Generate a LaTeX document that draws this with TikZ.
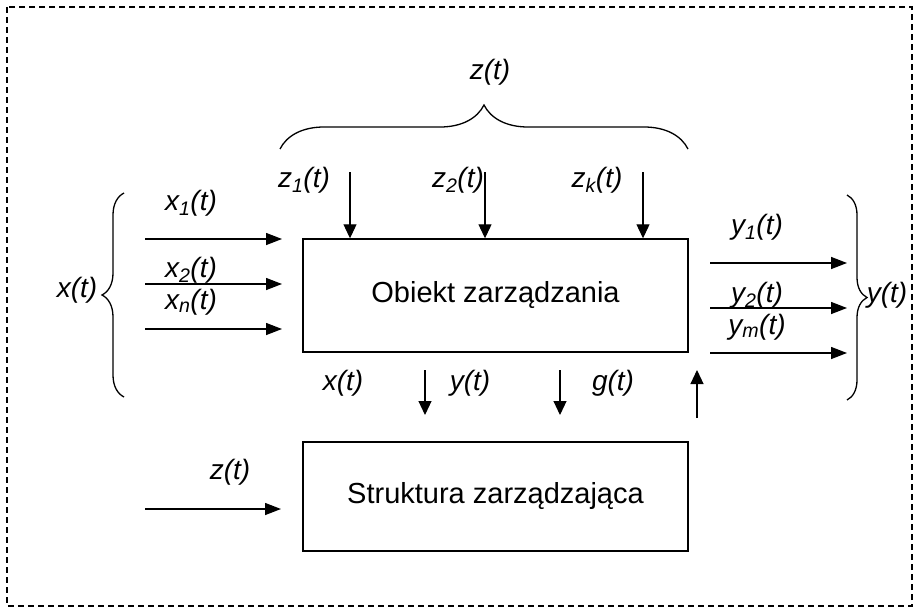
\documentclass[tikz,border=0pt]{standalone}
\usepackage{fontspec}
\setmainfont{Liberation Sans}
\usetikzlibrary{arrows.meta,decorations.pathreplacing}
\newcommand\sig[2]{#1\textsubscript{#2}(t)}
\begin{document}
\begin{tikzpicture}[x=1pt,y=-1pt,
  block/.style={draw, line width=1.4pt, minimum width=385pt, inner sep=0pt,
    font=\fontsize{29}{34}\selectfont},
  lab/.style={font=\fontsize{28}{33}\selectfont\itshape, inner sep=0pt},
  sigarrow/.style={line width=1.4pt, -{Triangle[length=16pt,width=12pt]}},
  thinarrow/.style={line width=1.1pt, -{Triangle[length=14pt,width=13pt]}},
  bracestyle/.style={line width=1.3pt, decorate},
  frame/.style={line width=1.2pt, dash pattern=on 6pt off 4pt}]
\useasboundingbox (0,0) rectangle (917,610);
\draw[frame] (7,7) rectangle (912,606);

% blocks
\node[block, minimum height=113pt] (ob) at (495.5,295.5) {Obiekt zarządzania};
\node[block, minimum height=109pt] (st) at (495.5,496.5) {Struktura zarządzająca};

% inputs x
\coordinate (x1s) at (145,239); \coordinate (x1e) at (282,239);
\coordinate (x2s) at (145,284); \coordinate (x2e) at (282,284);
\coordinate (x3s) at (145,329); \coordinate (x3e) at (282,329);
\draw[sigarrow] (x1s) -- (x1e);
\draw[sigarrow] (x2s) -- (x2e);
\draw[sigarrow] (x3s) -- (x3e);
\node[lab] (lx1) at (191,203) {\sig{x}{1}};
\node[lab] (lx2) at (191,270) {\sig{x}{2}};
\node[lab] (lxn) at (191,302) {\sig{x}{n}};
\draw[bracestyle, decoration={brace, amplitude=22pt}] (124,397) -- (124,193);
\node[lab] (lx) at (77,290) {x(t)};

% disturbances z
\coordinate (z1s) at (350,172);
\coordinate (z2s) at (485,172);
\coordinate (zks) at (643,172);
\draw[thinarrow] (z1s) -- (z1s |- ob.north);
\draw[thinarrow] (z2s) -- (z2s |- ob.north);
\draw[thinarrow] (zks) -- (zks |- ob.north);
\node[lab] (lz1) at (304,180) {\sig{z}{1}};
\node[lab] (lz2) at (458,180) {\sig{z}{2}};
\node[lab] (lzk) at (597,180) {\sig{z}{k}};
\draw[bracestyle, decoration={brace, amplitude=44pt}] (280,149) -- (688,149);
\node[lab] (lz) at (490,72) {z(t)};

% outputs y
\coordinate (y1s) at (710,263); \coordinate (y1e) at (847,263);
\coordinate (y2s) at (710,308); \coordinate (y2e) at (847,308);
\coordinate (y3s) at (710,353); \coordinate (y3e) at (847,353);
\draw[sigarrow] (y1s) -- (y1e);
\draw[sigarrow] (y2s) -- (y2e);
\draw[sigarrow] (y3s) -- (y3e);
\node[lab] (ly1) at (757,227) {\sig{y}{1}};
\node[lab] (ly2) at (757,295) {\sig{y}{2}};
\node[lab] (lym) at (757,327) {\sig{y}{m}};
\draw[bracestyle, decoration={brace, amplitude=20pt}] (847,195) -- (847,400);
\node[lab] (ly) at (887,295) {y(t)};

% between blocks
\coordinate (d1s) at (425,370); \coordinate (d1e) at (425,415);
\coordinate (d2s) at (560,370); \coordinate (d2e) at (560,415);
\coordinate (ups) at (697,418); \coordinate (upe) at (697,370);
\draw[thinarrow] (d1s) -- (d1e);
\draw[thinarrow] (d2s) -- (d2e);
\draw[thinarrow] (ups) -- (upe);
\node[lab] (lbx) at (343,383) {x(t)};
\node[lab] (lby) at (470,383) {y(t)};
\node[lab] (lbg) at (613,383) {g(t)};

% z input to structure
\coordinate (zs) at (145,509); \coordinate (ze) at (281,509);
\draw[sigarrow] (zs) -- (ze);
\node[lab] (lbz) at (230,472) {z(t)};
\end{tikzpicture}
\end{document}
